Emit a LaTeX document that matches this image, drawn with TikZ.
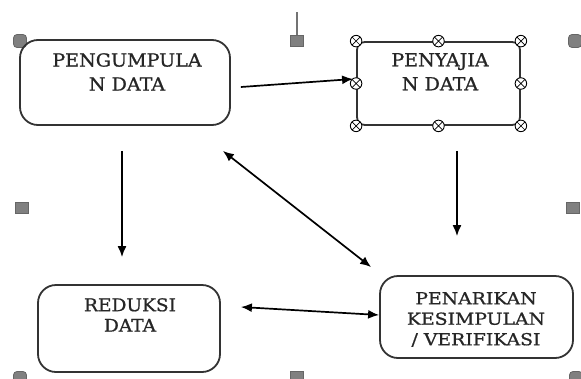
\documentclass[tikz,border=0pt]{standalone}
\usepackage{fontspec}
\setmainfont{DejaVu Serif}
\newfontfamily\lblfont{DejaVu Serif}[FakeBold=0.9]
\usetikzlibrary{calc,arrows.meta}
\newcommand{\wl}[1]{\scalebox{1.06}[1]{#1}}
\newcommand{\wlw}[1]{\scalebox{1.14}[1]{#1}}
\begin{document}
\begin{tikzpicture}[x=1pt,y=-1pt,
  box/.style={draw=black!80, line width=1.8pt, rounded corners=18pt, inner sep=0pt},
  lbl/.style={text=black!85, align=center, inner sep=0pt, anchor=north},
  bigtxt/.style={font=\lblfont\fontsize{18}{24}\selectfont},
  midtxt/.style={font=\lblfont\fontsize{17.5}{20.5}\selectfont},
  smltxt/.style={font=\lblfont\fontsize{16.5}{20.5}\selectfont},
  conn/.style={line width=1.7pt, -{Latex[length=11pt,width=9pt]}},
  bconn/.style={line width=1.7pt, {Latex[length=11pt,width=9pt]}-{Latex[length=11pt,width=9pt]}},
  sqh/.style={draw=black!60, fill=black!50, line width=0.8pt, minimum width=13pt, minimum height=11pt, inner sep=0pt},
  octh/.style={draw=black!60, fill=black!50, line width=0.8pt, rounded corners=3.5pt, minimum width=13pt, minimum height=13pt, inner sep=0pt},
  xh/.style={circle, draw=black, fill=white, line width=0.9pt, minimum size=11.5pt, inner sep=0pt,
    path picture={\draw[line width=0.7pt] (path picture bounding box.north west) -- (path picture bounding box.south east)
      (path picture bounding box.north east) -- (path picture bounding box.south west);}}
]
\useasboundingbox (0,0) rectangle (581,378);

% selection handles of the group
\coordinate (rot) at (297,12);
\node[octh] (g1) at (20,41) {};
\node[sqh]  (g2) at (297,41) {};
\node[octh] (g3) at (575,41) {};
\node[sqh]  (g4) at (22,208) {};
\node[sqh]  (g5) at (573,208) {};
\node[octh] (g6) at (20,378) {};
\node[sqh]  (g7) at (297,377) {};
\node[octh] (g8) at (576,378) {};
\draw[draw=black!55, line width=1.6pt] (rot) -- (g2.north);

% boxes
\node[box, minimum width=210pt, minimum height=85pt] (b1) at (125,82.5) {};
\node[box, rounded corners=8pt, minimum width=163pt, minimum height=83pt] (b2) at (438.5,83.5) {};
\node[box, minimum width=182pt, minimum height=87pt] (b3) at (129,328.5) {};
\node[box, minimum width=193pt, minimum height=82pt] (b4) at (476.5,317) {};

% texts
\node[lbl, bigtxt] (t1) at (127,53) {\wl{PENGUMPULA}\\\wl{N DATA}};
\node[lbl, bigtxt] (t2) at (440,53) {\wl{PENYAJIA}\\\wl{N DATA}};
\node[lbl, midtxt] (t3) at (130,298) {\wl{REDUKSI}\\\wl{DATA}};
\node[lbl, smltxt] (t4) at (476,292) {\wlw{PENARIKAN}\\\wlw{KESIMPULAN}\\\wlw{/ VERIFIKASI}};

% handles of the selected box
\node[xh] (x1) at (b2.north west) {};
\node[xh] (x2) at (b2.north) {};
\node[xh] (x3) at (b2.north east) {};
\node[xh] (x4) at (b2.west) {};
\node[xh] (x5) at (b2.east) {};
\node[xh] (x6) at (b2.south west) {};
\node[xh] (x7) at (b2.south) {};
\node[xh] (x8) at (b2.south east) {};

% connectors
\draw[conn] ($(b1.east)+(10,4.5)$) -- ($(b2.west)+(-3,-4.5)$);
\draw[conn] ($(b1.south)+(-3,25)$) -- ($(b3.north)+(-7,-27)$);
\draw[conn] ($(b2.south)+(18.5,25)$) -- ($(b4.north)+(-19.5,-39)$);
\draw[bconn] ($(b1.south east)+(-8,25)$) -- ($(b4.north west)+(-8,-8)$);
\draw[bconn] ($(b3.east)+(20,-21.5)$) -- ($(b4.west)+(0,-2)$);
\end{tikzpicture}
\end{document}
